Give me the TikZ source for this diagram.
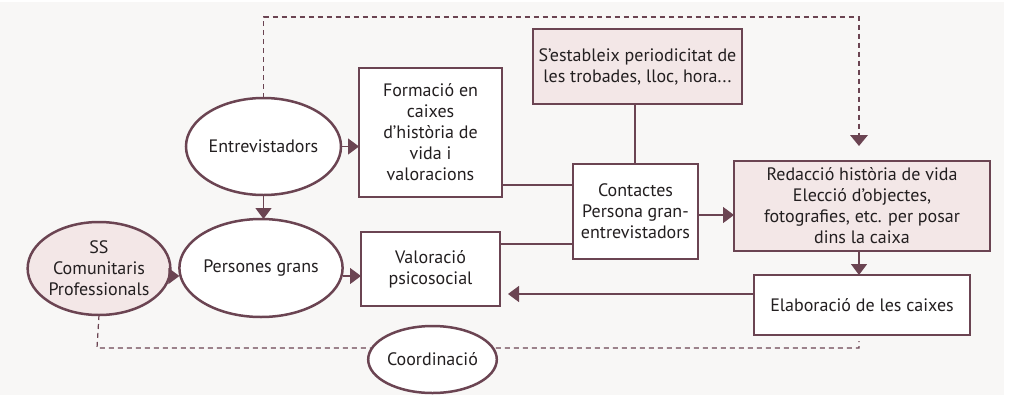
\documentclass[tikz,border=0pt]{standalone}
\usepackage{fontspec}
\setmainfont{PT Sans}
\usetikzlibrary{shapes.geometric,arrows.meta}
\definecolor{mauve}{HTML}{6B4452}
\definecolor{pinkfill}{HTML}{F3E7E7}
\definecolor{bggray}{HTML}{F8F7F6}
\definecolor{ink}{HTML}{231F20}
\tikzset{
  base/.style={text=ink, font=\fontsize{18}{21}\selectfont, align=center, inner sep=0pt, outer sep=0pt},
  thickbox/.style={base, draw=mauve, line width=2.8pt, fill=white, rectangle},
  pinkbox/.style={base, draw=mauve, line width=1.4pt, fill=pinkfill, rectangle},
  oval/.style={base, draw=mauve, line width=2.5pt, fill=white, ellipse},
  pinkoval/.style={oval, fill=pinkfill},
  conn/.style={draw=mauve, line width=1.4pt},
  arr/.style={conn, -{Triangle[length=11pt,width=16pt]}},
  dashline/.style={draw=mauve, line width=1.2pt, dash pattern=on 5pt off 4pt},
}
\begin{document}
\begin{tikzpicture}[x=1pt,y=-1pt]
\useasboundingbox (0,0) rectangle (1010,400);
\fill[white] (0,0) rectangle (1010,400);
\fill[bggray] (0,2) rectangle (1004,395);

% nodes
\node[oval, minimum width=123pt, minimum height=97pt] (entr) at (263.5,146.5) {Entrevistadors};
\node[thickbox, minimum width=143pt, minimum height=129pt] (form) at (430.5,132.5) {Formació en\\caixes\\d’història de\\vida i\\valoracions};
\node[pinkoval, minimum width=134pt, minimum height=93pt] (ss) at (99,268.5) {SS\\Comunitaris\\Professionals};
\node[oval, minimum width=128pt, minimum height=98pt] (pers) at (261,268) {Persones grans};
\node[thickbox, minimum width=139pt, minimum height=74pt] (valo) at (430.5,269) {Valoració\\psicosocial};
\node[pinkbox, minimum width=209pt, minimum height=75pt] (estab) at (637.5,66.5) {S’estableix periodicitat de\\les trobades, lloc, hora...};
\node[thickbox, minimum width=125pt, minimum height=95pt] (cont) at (635.5,211.5) {Contactes\\Persona gran-\\entrevistadors};
\node[pinkbox, minimum width=256pt, minimum height=90pt] (reda) at (862,206) {Redacció història de vida\\Elecció d’objectes,\\fotografies, etc. per posar\\dins la caixa};
\node[thickbox, minimum width=216pt, minimum height=60pt] (elab) at (862,305) {Elaboració de les caixes};

% coordinates for dashed lines
\coordinate (t1) at (263.5,17);
\coordinate (t2) at (859,17);
\coordinate (t3) at (859,135);
\coordinate (t4) at (859,146);
\coordinate (b1) at (97,348);
\coordinate (b2) at (859,348);
\coordinate (b3) at (859,341);
\coordinate (vr) at (508,294);

% dashed lines (behind Coordinació)
\draw[dashline] (entr.north) -- (t1) -- (t2) -- (t3);
\fill[mauve] (t4) -- ++(-9,-11) -- ++(18,0) -- cycle;
\draw[dashline] (ss.south) -- (b1) -- (b2) -- (b3);

\node[oval, minimum width=121pt, minimum height=67pt] (coord) at (432.5,359.5) {Coordinació};

% connectors
\draw[arr] (entr.east) -- (form.west |- entr.east);
\draw[arr] (entr.south) -- (pers.north -| entr.south);
\draw[arr] (ss.east |- 0,276) -- (pers.west |- 0,276);
\draw[arr] (pers.east |- 0,276) -- (valo.west |- 0,276);
\draw[conn] (form.east |- 0,185) -- (cont.west |- 0,185);
\draw[conn] (valo.east |- 0,244) -- (cont.west |- 0,244);
\draw[conn] (estab.south -| 635,0) -- (cont.north -| 635,0);
\draw[arr] (cont.east |- 0,215) -- (reda.west |- 0,215);
\draw[arr] (reda.south -| 859,0) -- (elab.north -| 859,0);
\draw[arr] (elab.west |- vr) -- (vr);
\end{tikzpicture}
\end{document}
